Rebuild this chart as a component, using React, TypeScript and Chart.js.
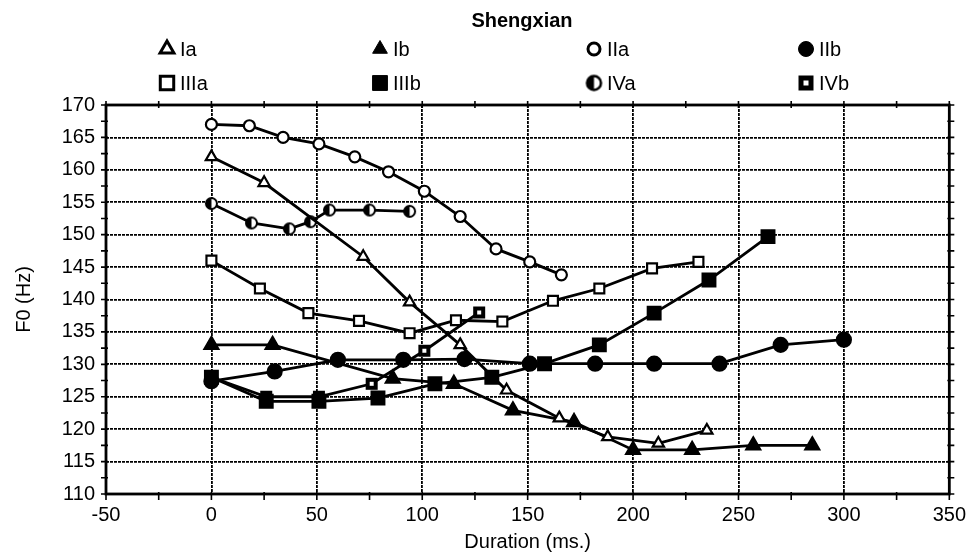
import React, { useEffect, useRef } from "react";
import { Chart, registerables } from "chart.js";
import { drawPoint } from "chart.js/helpers";

Chart.register(...registerables);

const chartTitle = "Shengxian";
const xAxisTitle = "Duration (ms.)";
const yAxisTitle = "F0 (Hz)";

const seriesNames = ["Ia", "Ib", "IIa", "IIb", "IIIa", "IIIb", "IVa", "IVb"];

const iaX = [0, 25, 72, 94, 118, 140, 165, 188, 212, 235];
const iaY = [162, 158, 146.6, 139.6, 133, 126, 121.7, 118.8, 117.8, 119.8];
const ibX = [0, 29, 86, 115, 143, 172, 200, 228, 257, 285];
const ibY = [133, 133, 127.8, 127, 122.9, 121.1, 116.8, 116.8, 117.5, 117.5];
const iiaX = [0, 18, 34, 51, 68, 84, 101, 118, 135, 151, 166];
const iiaY = [167, 166.8, 165, 164, 162, 159.7, 156.7, 152.8, 147.8, 145.8, 143.8];
const iibX = [0, 30, 60, 91, 120, 151, 182, 210, 241, 270, 300];
const iibY = [127.4, 128.9, 130.7, 130.7, 130.8, 130.1, 130.1, 130.1, 130.1, 133, 133.8];
const iiiaX = [0, 23, 46, 70, 94, 116, 138, 162, 184, 209, 231];
const iiiaY = [146, 141.7, 137.9, 136.7, 134.8, 136.8, 136.6, 139.8, 141.7, 144.8, 145.8];
const iiibX = [0, 26, 51, 79, 106, 133, 158, 184, 210, 236, 264];
const iiibY = [128, 124.3, 124.3, 124.8, 127, 128, 130.1, 133, 137.9, 143, 149.7];
const ivaX = [0, 19, 37, 47, 56, 75, 94];
const ivaY = [154.8, 151.8, 150.9, 152, 153.8, 153.8, 153.6];
const ivbX = [0, 26, 51, 76, 101, 127];
const ivbY = [128, 125, 125, 127, 132.1, 138];

const xMin = -50;
const xMax = 350;
const xStep = 50;
const xMinorStep = 25;
const yMin = 110;
const yMax = 170;
const yStep = 5;
const yMinorStep = 2.5;

const FONT = '"Liberation Sans", Arial, Helvetica, sans-serif';

function makeHalfCircle(r: number, bw: number) {
  const s = Math.ceil(2 * r + bw * 2 + 2);
  const c = document.createElement("canvas");
  c.width = s;
  c.height = s;
  const g = c.getContext("2d")!;
  const cx = s / 2;
  g.beginPath();
  g.arc(cx, cx, r, 0, Math.PI * 2);
  g.fillStyle = "#fff";
  g.fill();
  g.beginPath();
  g.moveTo(cx, cx);
  g.arc(cx, cx, r, Math.PI / 2, (Math.PI * 3) / 2);
  g.closePath();
  g.fillStyle = "#000";
  g.fill();
  g.beginPath();
  g.arc(cx, cx, r, 0, Math.PI * 2);
  g.lineWidth = bw;
  g.strokeStyle = "#000";
  g.stroke();
  return c;
}

function makeDotSquare(side: number, dot: number) {
  const s = Math.ceil(side + 2);
  const c = document.createElement("canvas");
  c.width = s;
  c.height = s;
  const g = c.getContext("2d")!;
  const o = (s - side) / 2;
  g.fillStyle = "#000";
  g.fillRect(o, o, side, side);
  g.fillStyle = "#fff";
  g.fillRect(s / 2 - dot / 2, s / 2 - dot / 2, dot, dot);
  return c;
}

const mk = (xs: number[], ys: number[]) => xs.map((x, i) => ({ x, y: ys[i] }));

export default function App() {
  const ref = useRef<HTMLCanvasElement | null>(null);

  useEffect(() => {
    if (!ref.current) return;

    const ivaPoint = makeHalfCircle(5.5, 2);
    const ivbPoint = makeDotSquare(12, 4);
    const ivaLegend = makeHalfCircle(7, 2.5);
    const ivbLegend = makeDotSquare(15, 5);

    const styles: any[] = [
      { ps: "triangle", r: 6.5, bg: "#fff", lg: { ps: "triangle", r: 8, bw: 3, bg: "#fff" } },
      { ps: "triangle", r: 8, bg: "#000", lg: { ps: "triangle", r: 8.5, bw: 1, bg: "#000" } },
      { ps: "circle", r: 5.5, bg: "#fff", lg: { ps: "circle", r: 6, bw: 3, bg: "#fff" } },
      { ps: "circle", r: 7, bg: "#000", lg: { ps: "circle", r: 7.5, bw: 1, bg: "#000" } },
      { ps: "rect", r: 7, bg: "#fff", lg: { ps: "rect", r: 9.5, bw: 3, bg: "#fff" } },
      { ps: "rect", r: 9, bg: "#000", lg: { ps: "rect", r: 10.5, bw: 1, bg: "#000" } },
      { ps: ivaPoint, r: 6, bg: "#000", lg: { ps: ivaLegend, r: 7, bw: 0, bg: "#000" } },
      { ps: ivbPoint, r: 7, bg: "#000", lg: { ps: ivbLegend, r: 8, bw: 0, bg: "#000" } },
    ];

    const allData = [
      mk(iaX, iaY),
      mk(ibX, ibY),
      mk(iiaX, iiaY),
      mk(iibX, iibY),
      mk(iiiaX, iiiaY),
      mk(iiibX, iiibY),
      mk(ivaX, ivaY),
      mk(ivbX, ivbY),
    ];

    const datasets = seriesNames.map((name, i) => ({
      label: name,
      data: allData[i],
      showLine: true,
      borderColor: "#000",
      borderWidth: 2.8,
      pointStyle: styles[i].ps,
      pointRadius: styles[i].r,
      pointBackgroundColor: styles[i].bg,
      pointBorderColor: "#000",
      pointBorderWidth: 2.2,
      tension: 0,
    }));

    const legendCols = [167, 380, 594, 806];
    const legendRows = [49, 83];

    const decorPlugin = {
      id: "decor",
      afterDraw(chart: any) {
        const { ctx, chartArea } = chart;
        const { left, right, top, bottom } = chartArea;
        const xs = chart.scales.x;
        const ys = chart.scales.y;
        ctx.save();
        ctx.strokeStyle = "#000";
        ctx.lineWidth = 2.8;
        ctx.setLineDash([]);
        ctx.strokeRect(left, top, right - left, bottom - top);
        ctx.lineWidth = 1.6;
        ctx.beginPath();
        for (let v = xMin; v <= xMax + 0.001; v += xMinorStep) {
          const px = xs.getPixelForValue(v);
          ctx.moveTo(px, bottom - 2);
          ctx.lineTo(px, bottom + 6);
          ctx.moveTo(px, top - 4);
          ctx.lineTo(px, top + 3);
        }
        for (let v = yMin; v <= yMax + 0.001; v += yMinorStep) {
          const py = ys.getPixelForValue(v);
          ctx.moveTo(left - 5, py);
          ctx.lineTo(left + 2, py);
          ctx.moveTo(right - 2, py);
          ctx.lineTo(right + 5, py);
        }
        ctx.stroke();

        ctx.fillStyle = "#000";
        ctx.font = `bold 20px ${FONT}`;
        ctx.textAlign = "center";
        ctx.textBaseline = "middle";
        ctx.fillText(chartTitle, 522, 21);

        ctx.font = `20px ${FONT}`;
        ctx.textAlign = "left";
        chart.data.datasets.forEach((ds: any, i: number) => {
          const lx = legendCols[i % 4];
          const ly = legendRows[Math.floor(i / 4)];
          const lg = styles[i].lg;
          ctx.fillStyle = lg.bg;
          ctx.strokeStyle = "#000";
          ctx.lineWidth = lg.bw;
          drawPoint(ctx, { pointStyle: lg.ps, radius: lg.r, rotation: 0, borderWidth: lg.bw }, lx, ly);
          ctx.fillStyle = "#000";
          ctx.fillText(ds.label, lx + 13, ly + 1);
        });
        ctx.restore();
      },
    };

    const chart = new Chart(ref.current, {
      type: "scatter",
      data: { datasets },
      options: {
        animation: false,
        responsive: true,
        maintainAspectRatio: false,
        layout: { padding: { top: 105, right: 14, bottom: 0, left: 0 } },
        plugins: {
          legend: { display: false },
          title: { display: false },
          tooltip: { enabled: false },
        },
        scales: {
          x: {
            type: "linear",
            min: xMin,
            max: xMax,
            ticks: {
              stepSize: xStep,
              autoSkip: false,
              maxRotation: 0,
              color: "#000",
              padding: 9,
              font: { family: FONT, size: 20 },
            },
            grid: { color: "#000", lineWidth: 1.8, drawTicks: false },
            border: { display: false, dash: [3, 1] },
            title: {
              display: true,
              text: xAxisTitle,
              color: "#000",
              font: { family: FONT, size: 20 },
              padding: { top: 0, bottom: 0 },
            },
            afterFit(s: any) {
              s.height = 60;
            },
          },
          y: {
            type: "linear",
            min: yMin,
            max: yMax,
            ticks: {
              stepSize: yStep,
              autoSkip: false,
              color: "#000",
              padding: 11,
              font: { family: FONT, size: 20 },
            },
            grid: { color: "#000", lineWidth: 1.8, drawTicks: false },
            border: { display: false, dash: [3, 1] },
            title: {
              display: true,
              text: yAxisTitle,
              color: "#000",
              font: { family: FONT, size: 20 },
              padding: { top: 12, bottom: 0 },
            },
            afterFit(s: any) {
              s.width = 106;
            },
          },
        },
      },
      plugins: [decorPlugin],
    });

    return () => chart.destroy();
  }, []);

  return (
    <div style={{ position: "fixed", left: 0, top: 0, width: 975, height: 554, background: "#fff" }}>
      <canvas ref={ref} />
    </div>
  );
}
